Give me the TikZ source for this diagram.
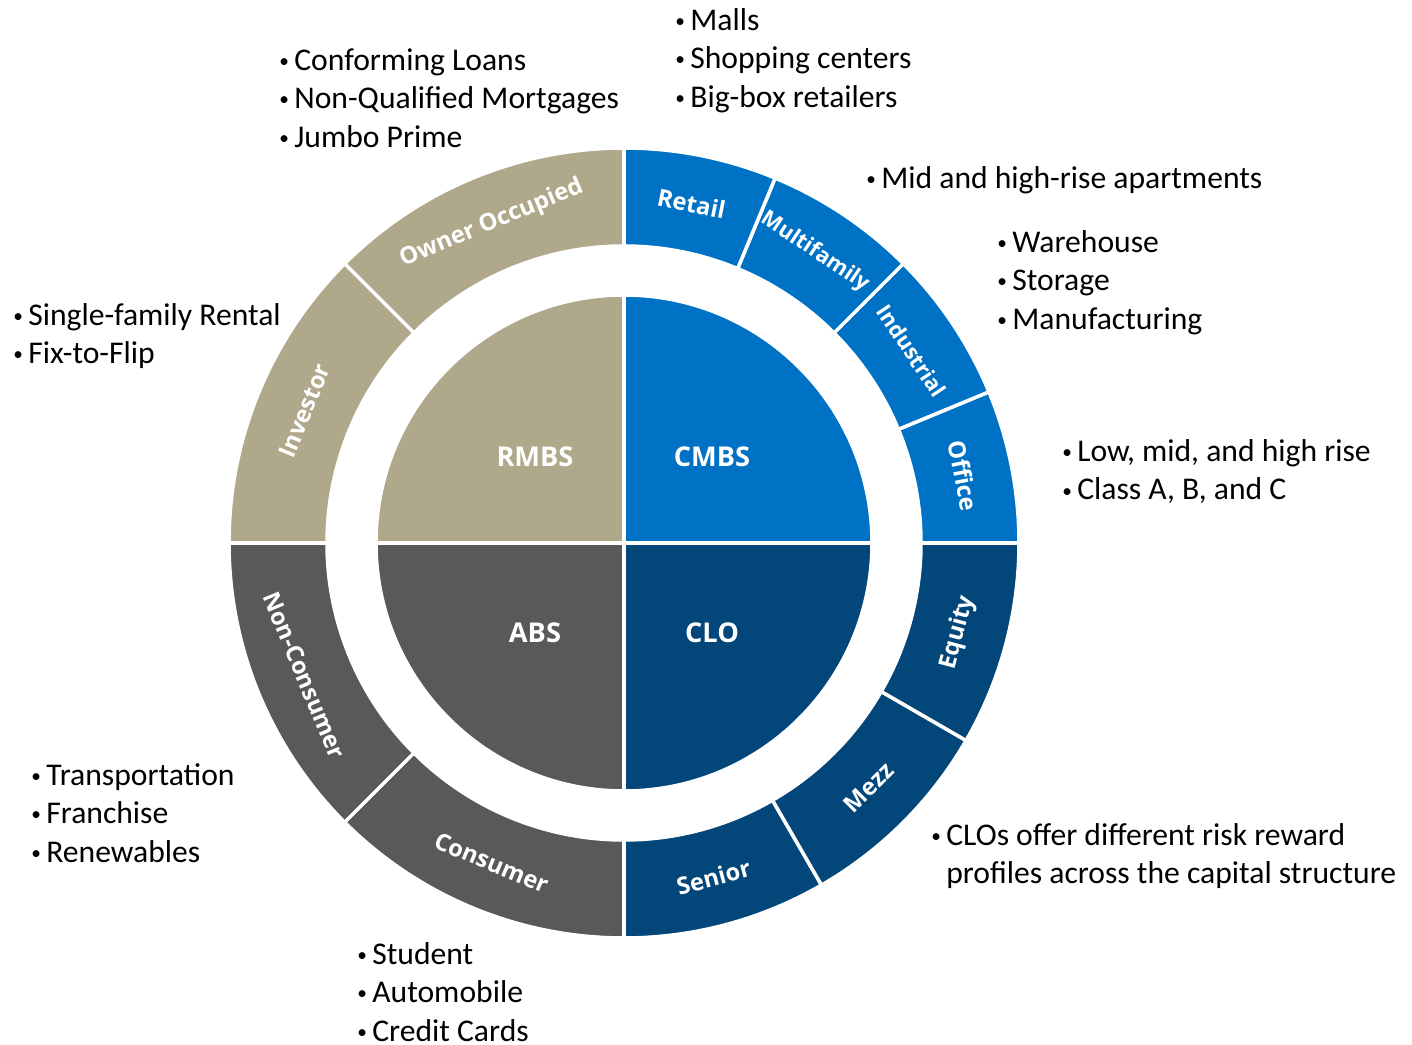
\documentclass[tikz,border=0pt]{standalone}
\usepackage{fontspec}
\setmainfont{Carlito}
\newfontfamily\segfont{Open Sans}
\definecolor{rmbscol}{HTML}{B0A88A}
\definecolor{cmbscol}{HTML}{0072C6}
\definecolor{abscol}{HTML}{595959}
\definecolor{clocol}{HTML}{03467A}
\newcommand{\bul}{\makebox[0.3cm][l]{\raisebox{1.6pt}{\fontsize{11}{11}\selectfont\textbullet}}}
\newcommand{\lsp}{\vphantom{Ag}}
\tikzset{
  sector/.style={draw=white, line width=2pt},
  seglbl/.style={text=white, inner sep=0pt, font=\segfont\bfseries\fontsize{13.5}{16}\selectfont},
  segthin/.style={seglbl, font=\segfont\bfseries\fontsize{12.3}{15}\selectfont},
  corelbl/.style={text=white, inner sep=0pt, font=\segfont\bfseries\fontsize{15.5}{18}\selectfont},
  lst/.style={anchor=west, inner sep=0pt, align=left, font=\fontsize{18}{21.9}\selectfont}
}
\begin{document}
\begin{tikzpicture}[x=0.02cm, y=0.02cm]
  \useasboundingbox (-624,-501) rectangle (788,543);
  % inner pie
  \draw [sector, fill=rmbscol] (0,0) -- (90:248) arc (90:180:248) -- cycle;
  \draw [sector, fill=cmbscol] (0,0) -- (0:248) arc (0:90:248) -- cycle;
  \draw [sector, fill=abscol] (0,0) -- (180:248) arc (180:270:248) -- cycle;
  \draw [sector, fill=clocol] (0,0) -- (270:248) arc (270:360:248) -- cycle;
  \node [corelbl] (rmbs) at (-89,86) {RMBS};
  \node [corelbl] (cmbs) at (88,86) {CMBS};
  \node [corelbl] (abs) at (-89,-90) {ABS};
  \node [corelbl] (clo) at (88,-90) {CLO};
  % outer ring, RMBS
  \draw [sector, fill=rmbscol] (90:297) -- (90:395) arc (90:135:395) -- (135:297) arc (135:90:297) -- cycle;
  \draw [sector, fill=rmbscol] (135:297) -- (135:395) arc (135:180:395) -- (180:297) arc (180:135:297) -- cycle;
  \node [seglbl, rotate=22.5] (owner) at (112.5:346) {Owner Occupied};
  \node [seglbl, rotate=67.5] (investor) at (157.5:346) {Investor};
  % outer ring, CMBS
  \draw [sector, fill=cmbscol] (0:297) -- (0:395) arc (0:22.5:395) -- (22.5:297) arc (22.5:0:297) -- cycle;
  \draw [sector, fill=cmbscol] (22.5:297) -- (22.5:395) arc (22.5:45:395) -- (45:297) arc (45:22.5:297) -- cycle;
  \draw [sector, fill=cmbscol] (45:297) -- (45:395) arc (45:67.5:395) -- (67.5:297) arc (67.5:45:297) -- cycle;
  \draw [sector, fill=cmbscol] (67.5:297) -- (67.5:395) arc (67.5:90:395) -- (90:297) arc (90:67.5:297) -- cycle;
  \node [seglbl, rotate=-78.75] (office) at (11.25:346) {Office};
  \node [segthin, rotate=-56.25] (industrial) at (33.75:346) {Industrial};
  \node [segthin, rotate=-33.75] (multifamily) at (56.75:348) {Multifamily};
  \node [seglbl, rotate=-11.25] (retail) at (78.75:346) {Retail};
  % outer ring, ABS
  \draw [sector, fill=abscol] (180:297) -- (180:395) arc (180:225:395) -- (225:297) arc (225:180:297) -- cycle;
  \draw [sector, fill=abscol] (225:297) -- (225:395) arc (225:270:395) -- (270:297) arc (270:225:297) -- cycle;
  \node [seglbl, rotate=-67.5] (noncons) at (202.5:346) {Non-Consumer};
  \node [seglbl, rotate=-22.5] (consumer) at (247.5:346) {Consumer};
  % outer ring, CLO
  \draw [sector, fill=clocol] (270:297) -- (270:395) arc (270:300:395) -- (300:297) arc (300:270:297) -- cycle;
  \draw [sector, fill=clocol] (300:297) -- (300:395) arc (300:330:395) -- (330:297) arc (330:300:297) -- cycle;
  \draw [sector, fill=clocol] (330:297) -- (330:395) arc (330:360:395) -- (360:297) arc (360:330:297) -- cycle;
  \node [seglbl, rotate=15] (senior) at (285:346) {Senior};
  \node [seglbl, rotate=45] (mezz) at (315:346) {Mezz};
  \node [seglbl, rotate=75] (equity) at (345:346) {Equity};
  % bullet lists
  \node [lst] (retaillst) at (51,482.5) {\bul Malls\lsp\\ \bul Shopping centers\lsp\\ \bul Big-box retailers\lsp};
  \node [lst] (ownerlst) at (-345,442.5) {\bul Conforming Loans\lsp\\ \bul Non-Qualified Mortgages\lsp\\ \bul Jumbo Prime\lsp};
  \node [lst] (multilst) at (242,363) {\bul Mid and high-rise apartments\lsp};
  \node [lst] (induslst) at (373,260.5) {\bul Warehouse\lsp\\ \bul Storage\lsp\\ \bul Manufacturing\lsp};
  \node [lst] (investlst) at (-611,207) {\bul Single-family Rental\lsp\\ \bul Fix-to-Flip\lsp};
  \node [lst] (officelst) at (438,70.5) {\bul Low, mid, and high rise\lsp\\ \bul Class A, B, and C\lsp};
  \node [lst] (nonconslst) at (-593,-272.5) {\bul Transportation\lsp\\ \bul Franchise\lsp\\ \bul Renewables\lsp};
  \node [lst] (clolst) at (307,-313) {\bul CLOs offer different risk reward\lsp\\ \hspace*{0.3cm}profiles across the capital structure\lsp};
  \node [lst] (conslst) at (-267,-451.5) {\bul Student\lsp\\ \bul Automobile\lsp\\ \bul Credit Cards\lsp};
\end{tikzpicture}
\end{document}
